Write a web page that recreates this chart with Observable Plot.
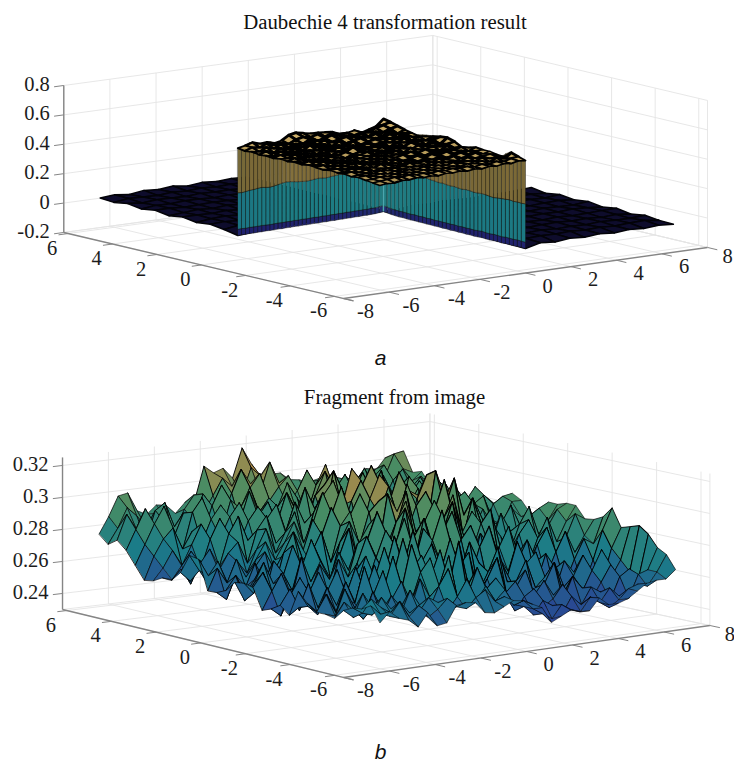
<!DOCTYPE html>
<html><head><meta charset="utf-8">
<style>html,body{margin:0;padding:0;background:#fff;overflow:hidden}svg{display:block}</style>
<script src="https://cdn.jsdelivr.net/npm/d3@7"></script>
<script src="https://cdn.jsdelivr.net/npm/@observablehq/plot@0.6"></script>
</head><body>
<script>
const xTicks=[-8,-6,-4,-2,0,2,4,6,8];
const yTicks=[-6,-4,-2,0,2,4,6];
const zTicksA=[-0.2,0,0.2,0.4,0.6,0.8];
const zTicksB=[0.24,0.26,0.28,0.3,0.32];
const titleA="Daubechie 4 transformation result";
const titleB="Fragment from image";

// chart a: raised quadrant top, z = 0.5 + v/1000, y 0 -> -6.4 by row, x -6.4 -> 0 by column
const topA=[
[60,70,85,70,75,60,70,100,110,100,90,90,85,80,60,60,70,45,60,75,120],
[52,68,62,78,64,72,56,80,92,84,96,74,88,66,78,54,68,60,84,96,110],
[58,50,74,60,80,54,70,62,88,70,82,94,60,76,58,72,50,76,64,82,95],
[50,66,48,72,56,78,60,84,58,92,66,78,88,54,74,62,80,56,90,60,80],
[54,44,68,52,76,50,86,64,76,52,84,60,72,82,50,70,58,84,52,76,70],
[48,62,54,70,46,66,58,78,50,72,62,90,56,68,78,48,74,60,80,62,60],
[56,50,72,44,64,52,74,56,82,60,76,54,84,60,72,62,50,78,56,74,70],
[50,64,46,66,54,70,48,68,58,86,52,70,62,80,48,76,66,54,72,60,80],
[58,44,60,50,72,56,62,76,50,64,78,56,74,54,70,58,82,64,50,76,90],
[52,66,54,68,46,64,52,70,60,74,50,68,58,76,62,50,68,56,74,58,95],
[60,48,70,52,62,50,72,54,66,56,80,60,72,52,78,60,54,72,60,70,80],
[54,62,46,66,54,68,48,64,52,74,58,66,50,70,56,72,62,50,76,54,55],
[50,44,64,50,70,56,60,50,70,54,62,76,56,64,48,66,54,70,58,72,60],
[58,60,48,62,46,64,54,68,50,66,52,60,72,54,70,58,74,52,66,56,75],
[52,46,66,54,60,50,70,56,62,48,70,54,62,50,64,50,60,70,54,68,70],
[56,62,50,64,48,58,52,64,50,68,56,66,50,68,56,72,52,58,74,60,70],
[48,52,60,46,62,54,66,48,60,54,62,50,64,54,60,50,68,56,62,70,60],
[54,60,48,58,50,64,50,60,52,66,50,60,52,66,54,62,54,70,58,64,55],
[46,46,56,50,62,48,58,52,62,50,58,54,60,50,62,56,66,54,72,60,95],
[40,44,50,60,52,60,54,58,50,60,54,62,56,62,52,64,56,68,60,74,80],
[34,40,38,48,44,52,46,50,44,54,50,56,48,56,50,60,54,64,58,70,65]];

// chart a: inner walls, z in thousandths
const wallABottom=[-34,-33,-34,-32,-33,-31,-32,-30,-31,-30,-29,-30,-28,-29,-27,-28,-26,-27,-26,-25,-26,-24,-25,-23,-24,-22,-23,-21,-22,-20,-21,-19,-20,-18,-17,-14,-10];
const wallABlue=[8,9,8,10,9,10,11,10,9,11,12,11,13,12,14,13,15,14,15,16,15,17,16,18,17,19,18,20,19,21,20,22,21,23,24,27,31];
const wallATeal=[256,254,258,262,264,268,270,266,264,268,274,280,284,282,278,274,272,270,272,276,278,276,274,278,280,284,282,278,274,272,270,272,274,272,276,280,300];
const wallATop=[560,560,575,586,580,572,569,572,574,565,555,570,590,605,614,605,598,596,592,588,587,588,585,585,575,565,552,560,565,568,555,545,539,555,568,575,620];
const wallBBottom=[-10,-14,-18,-20,-22,-21,-23,-24,-23,-25,-24,-26,-25,-27,-26,-28,-27,-29,-28,-30,-29,-31,-30,-32,-31,-30,-32,-33,-31,-32,-34,-32,-33,-34,-32,-33,-34];
const wallBBlue=[30,26,22,20,18,19,17,16,18,15,17,14,16,13,15,13,14,12,14,11,13,11,12,10,12,14,11,10,12,11,9,12,11,10,12,10,9];
const wallBTeal=[300,280,276,274,278,282,286,284,280,284,288,286,282,280,276,278,274,272,274,270,268,272,270,266,268,270,268,264,262,266,268,270,272,268,270,268,270];
const wallBTop=[620,615,605,595,590,580,575,568,562,570,575,580,582,586,590,594,596,590,575,560,555,560,570,575,572,570,569,565,560,556,555,580,596,585,570,565,565];

// chart a: floor, z in thousandths. Left part y 6.2 -> 0, x -6.4 -> 0; right part y 0 -> -6.4, x 0 -> 6.5
const floorLeft=[
[0,8,-4,10,2,12,-2,9,1,8,2],
[-8,4,1,-3,5,0,6,-1,4,2,5],
[6,-4,5,2,-2,6,1,3,-2,5,1],
[-9,2,-1,6,3,-2,4,0,6,2,4],
[5,5,-3,1,4,2,-3,5,1,-1,3],
[-10,-3,4,-2,6,-1,3,2,-2,4,0],
[3,3,0,5,-3,4,1,-2,5,1,3],
[-12,-1,4,-2,2,0,5,3,-1,4,-1],
[-2,2,-4,3,-1,5,-2,4,2,-1,2],
[-16,-1,2,-3,4,1,-2,3,-3,2,0],
[-34,-26,-22,-16,-14,-10,-12,-8,-10,-9,-8]];
const floorRight=[
[-8,-10,4,-2,5,1,-3,4,2,6,12],
[-9,3,-2,6,0,4,-1,5,-2,3,-4],
[-10,-2,5,1,-3,6,2,-1,4,0,10],
[-12,4,0,-3,5,1,7,-2,3,6,-3],
[-14,1,6,2,-1,4,-2,5,1,-2,9],
[-16,-2,3,-1,5,0,4,2,8,3,-6],
[-18,4,-3,6,1,-2,5,-1,3,6,8],
[-22,0,5,-2,3,6,1,4,-3,2,-8],
[-26,3,-1,4,-2,2,-2,5,1,-1,6],
[-30,-3,2,0,5,-1,3,-2,4,8,-6],
[-34,-8,-18,-6,-14,-4,-12,-3,-10,-2,-10]];

// chart b: surface, z = 0.2 + v/1000, y 6.2 -> -6.4 by row, x -6.4 -> 6.5 by column
const surfB=[
[74,84,96,97,85,82,87,86,80,86,86,107,102,104,97,115,104,94,96,96,91,90,88,89,90,88,82,84,91,89,96,92],
[69,78,90,84,76,84,80,72,84,92,80,90,100,94,88,104,98,90,84,92,84,80,90,82,78,88,84,80,92,86,100,101],
[73,88,78,70,88,92,76,68,78,94,84,76,92,106,96,90,108,94,80,86,96,84,74,88,92,80,72,90,96,84,92,89],
[68,80,92,76,82,72,86,78,70,88,100,82,74,96,104,86,94,100,84,72,88,100,86,78,90,98,84,76,88,94,86,91],
[60,72,84,94,76,66,88,96,78,72,92,86,98,82,90,76,84,92,104,88,76,90,98,82,72,86,94,82,70,84,90,83],
[52,66,76,82,68,78,70,84,92,74,80,98,84,70,86,100,90,78,96,108,86,74,88,94,80,70,84,92,78,88,80,81],
[53,60,70,60,72,84,64,74,86,94,72,84,92,78,96,84,74,92,106,94,82,96,78,86,98,82,72,88,94,76,86,82],
[56,54,62,70,58,76,88,66,70,84,92,68,80,98,86,72,94,100,84,76,92,104,88,72,84,94,80,70,86,92,84,81],
[56,62,52,64,72,60,80,90,74,66,86,94,76,84,102,88,80,110,96,86,74,94,106,84,76,88,96,78,72,88,80,81],
[62,56,68,54,60,70,76,62,82,90,72,78,96,82,74,98,106,86,78,100,112,84,76,96,86,74,90,84,78,70,84,82],
[74,64,54,62,50,66,58,72,84,68,80,92,70,90,100,80,92,114,94,82,102,90,80,104,92,78,70,88,92,78,86,85],
[73,62,70,56,64,52,68,78,66,76,88,74,86,104,84,76,96,108,88,78,92,110,88,98,82,90,80,72,86,94,80,82],
[55,68,58,72,60,66,74,62,70,84,72,90,78,92,108,84,74,98,112,90,80,100,96,78,92,100,84,74,82,90,84,87],
[55,50,64,56,70,58,52,74,86,68,64,82,98,76,92,104,82,90,106,86,74,96,110,88,78,92,96,80,72,86,90,91],
[58,66,54,62,50,72,62,80,62,74,86,66,88,96,74,94,100,78,88,108,84,76,114,96,80,72,90,94,78,74,88,88],
[64,52,62,74,60,66,54,68,84,70,58,80,92,78,88,70,106,94,80,96,104,78,92,110,86,76,88,78,70,86,80,81],
[65,58,70,56,64,52,76,60,72,56,74,90,68,82,96,76,88,108,82,72,94,112,88,74,98,84,72,80,90,76,82,84],
[64,72,58,68,50,62,56,72,62,78,66,60,84,100,72,92,104,76,90,102,78,90,76,100,82,70,88,76,68,84,88,91],
[51,62,72,54,66,58,68,54,76,64,84,72,62,88,80,102,84,94,74,92,106,82,94,74,86,76,66,82,92,74,82,91],
[53,48,60,70,52,64,50,66,58,74,90,76,92,68,84,70,96,74,86,104,80,70,88,96,72,62,78,86,70,80,90,93],
[57,66,52,62,74,58,68,56,72,60,78,66,84,100,70,92,76,88,100,72,62,84,74,64,82,70,60,76,88,72,84,93],
[52,56,70,54,64,76,52,64,82,62,70,92,72,82,64,86,104,70,84,92,68,58,76,88,70,58,74,84,66,76,90,86],
[68,58,52,68,56,62,78,60,70,88,62,74,96,70,86,72,84,66,60,80,92,72,62,68,80,66,56,70,82,68,78,87],
[62,56,66,54,72,58,64,80,60,72,94,64,78,88,64,78,68,86,72,56,74,62,82,60,54,72,62,52,66,78,74,90],
[58,68,56,64,60,82,56,66,86,62,76,84,60,72,92,66,74,56,68,82,60,52,70,76,58,50,68,60,50,66,84,97],
[58,56,72,60,54,66,80,58,68,94,64,72,88,62,76,84,58,66,78,54,62,74,56,62,70,54,60,72,58,54,74,86],
[57,66,60,54,70,58,64,74,60,78,86,60,68,94,66,56,68,80,52,60,70,50,60,72,52,62,52,64,76,58,68,88],
[63,58,72,62,56,68,60,58,76,64,70,88,58,62,78,64,54,60,66,50,56,64,54,50,64,56,48,58,68,52,62,90],
[66,62,60,70,62,58,72,62,58,72,82,62,74,58,66,72,60,50,58,62,50,54,62,52,48,58,54,48,62,66,60,86],
[67,72,66,62,68,60,60,68,64,58,66,76,62,70,60,66,56,54,48,56,52,46,56,50,54,50,58,52,50,64,66,79],
[70,64,62,70,60,66,58,62,68,62,60,66,70,62,64,58,60,54,50,46,54,50,48,56,52,48,52,58,60,58,66,76],
[61,67,62,60,55,63,54,55,65,66,65,58,57,60,63,62,59,56,46,49,52,50,50,57,52,52,54,58,62,63,63,68]];

const xMin=-8,xMax=8,yMin=-6.4,yMax=6.2,sx0=-6.4,sx1=6.5,sy0=-6.4,sy1=6.2;

const viewA={ox:343,oy:298,ex:[22.75,-3.19],ey:[-22.2,-5.24],ez:147,k:[0.025,0.005],zMin:-0.2,zMax:0.8,y0:0,H:381};
const viewB={ox:343,oy:677,ex:[22.9,-3.25],ey:[-22.3,-5.4],ez:1600,k:[0.005,0.04],zMin:0.23,zMax:0.325,y0:381,H:382};

const proj=(v,x,y,z,p=false)=>{
  const X=x-xMin,Y=y-yMin,Z=z-v.zMin;
  return [v.ox+X*v.ex[0]+Y*v.ey[0]+(p?v.k[0]*X*Y:0), v.oy+X*v.ex[1]+Y*v.ey[1]+(p?v.k[1]*X*Y:0)-Z*v.ez];
};

function frame(v,zTicks,title,tx,ty,letter,ly){
  const grid=[],axes=[],ticks=[],labels=[];
  const seg=(arr,a,b,p=true)=>{const A=proj(v,...a,p),B=proj(v,...b,p);arr.push({x1:A[0],y1:A[1],x2:B[0],y2:B[1]});};
  for(const x of xTicks){
    seg(grid,[x,yMin,v.zMin],[x,yMax,v.zMin]);
    seg(grid,[x,yMax,v.zMin],[x,yMax,v.zMax]);
  }
  for(const y of yTicks){
    seg(grid,[xMin,y,v.zMin],[xMax,y,v.zMin]);
    seg(grid,[xMax,y,v.zMin],[xMax,y,v.zMax]);
  }
  seg(grid,[xMax,yMax,v.zMin],[xMax,yMax,v.zMax]);
  seg(grid,[xMax,yMin,v.zMin],[xMax,yMin,v.zMax]);
  seg(grid,[xMin,yMax,v.zMin],[xMax,yMax,v.zMin]);
  seg(grid,[xMax,yMin,v.zMin],[xMax,yMax,v.zMin]);
  for(const z of zTicks){
    seg(grid,[xMin,yMax,z],[xMax,yMax,z]);
    seg(grid,[xMax,yMax,z],[xMax,yMin,z]);
    seg(ticks,[xMin,yMax,z],[xMin-0.42,yMax,z]);
    const P=proj(v,xMin,yMax,z,true);
    labels.push({x:P[0],y:P[1],t:String(z),k:"z"});
  }
  seg(axes,[xMin,yMin,v.zMin],[xMax,yMin,v.zMin]);
  seg(axes,[xMin,yMin-0.45,v.zMin],[xMin,yMax,v.zMin]);
  seg(axes,[xMin,yMax,v.zMin],[xMin,yMax,v.zMax]);
  for(const x of xTicks){
    seg(ticks,[x,yMin,v.zMin],[x,yMin-0.45,v.zMin]);
    const P=proj(v,x,yMin,v.zMin,true);
    labels.push({x:P[0],y:P[1],t:String(x),k:x===8?"x8":"x"});
  }
  for(const y of yTicks){
    seg(ticks,[xMin,y,v.zMin],[xMin-0.42,y,v.zMin]);
    const P=proj(v,xMin,y,v.zMin,true);
    labels.push({x:P[0],y:P[1],t:String(y),k:"y"});
  }
  const serif="Liberation Serif",fs=20.5;
  return [
    Plot.link(grid,{x1:"x1",y1:"y1",x2:"x2",y2:"y2",stroke:"#e4e4e4",strokeWidth:0.9}),
    Plot.link(axes,{x1:"x1",y1:"y1",x2:"x2",y2:"y2",stroke:"#858585",strokeWidth:1.4}),
    Plot.link(ticks,{x1:"x1",y1:"y1",x2:"x2",y2:"y2",stroke:"#858585",strokeWidth:1}),
    Plot.text(labels.filter(d=>d.k==="z"),{x:"x",y:"y",text:"t",dx:-14,dy:-1,textAnchor:"end",fontFamily:serif,fontSize:fs,fill:"#1c1c1c"}),
    Plot.text(labels.filter(d=>d.k==="x"),{x:"x",y:"y",text:"t",dx:22,dy:13,fontFamily:serif,fontSize:fs,fill:"#1c1c1c"}),
    Plot.text(labels.filter(d=>d.k==="x8"),{x:"x",y:"y",text:"t",dx:20,dy:9,fontFamily:serif,fontSize:fs,fill:"#1c1c1c"}),
    Plot.text(labels.filter(d=>d.k==="y"),{x:"x",y:"y",text:"t",dx:-16,dy:14.5,fontFamily:serif,fontSize:fs,fill:"#1c1c1c"}),
    Plot.text([{x:tx,y:ty,t:title}],{x:"x",y:"y",text:"t",fontFamily:serif,fontSize:20.8,fill:"#111"}),
    Plot.text([{x:380,y:ly,t:letter}],{x:"x",y:"y",text:"t",fontFamily:"Liberation Sans",fontStyle:"italic",fontSize:21,fill:"#111"})
  ];
}

function gridFacets(v,g,x0,x1,y0,y1,zf,lo,hi,span){
  const out=[];let id=0;
  const R=g.length,C=g[0].length;
  const xs=c=>x0+(x1-x0)*c/(C-1),ys=r=>y0+(y1-y0)*r/(R-1);
  for(let r=0;r<R-1;r++)for(let c=C-2;c>=0;c--){
    const q=[[r,c],[r,c+1],[r+1,c+1],[r+1,c]];
    const val=d3.mean(q,([a,b])=>zf(g[a][b]));
    const rng=d3.max(q,([a,b])=>g[a][b])-d3.min(q,([a,b])=>g[a][b]);
    const w=lo+(hi-lo)*Math.min(rng/span,1);
    id++;
    for(const [a,b] of q){const P=proj(v,xs(b),ys(a),zf(g[a][b]));out.push({px:P[0],py:P[1],id,val,w});}
  }
  return out;
}

function wallFacets(v,bottom,blue,teal,top,pt){
  const out=[];let id=0;const n=bottom.length;
  const bands=[bottom,blue,teal,top];
  for(let i=0;i<n-1;i++)for(let b=0;b<3;b++){
    const lo=bands[b],hi=bands[b+1];
    const A=pt(i),B=pt(i+1);
    const val=(lo[i]+lo[i+1]+hi[i]+hi[i+1])/4000;
    id++;
    for(const [p,z] of [[A,lo[i]],[B,lo[i+1]],[B,hi[i+1]],[A,hi[i]]]){
      const P=proj(v,p[0],p[1],z/1000);out.push({px:P[0],py:P[1],id,val});
    }
  }
  return out;
}

const facetMark=(rows,opts)=>Plot.line(rows,{x:"px",y:"py",z:"id",curve:"linear-closed",strokeLinejoin:"round",...opts});
const base=v=>({width:734,height:v.H,marginTop:0,marginRight:0,marginBottom:0,marginLeft:0,
  x:{domain:[0,734],range:[0,734],axis:null},y:{domain:[v.y0,v.y0+v.H],range:[0,v.H],axis:null},
  style:{background:"#fff",display:"block"}});

const fz=m=>m/1000;
const floorL=gridFacets(viewA,floorLeft,sx0,0,sy1,0,fz,1.5,1.5,1);
const floorR=gridFacets(viewA,floorRight,0,sx1,0,sy0,fz,1.5,1.5,1);
const wallAC=wallFacets(viewA,wallABottom,wallABlue,wallATeal,wallATop,i=>[sx0*(1-i/36),0]);
const wallCB=wallFacets(viewA,wallBBottom,wallBBlue,wallBTeal,wallBTop,i=>[0,sy0*i/36]);
const topFacets=gridFacets(viewA,topA,sx0,0,0,sy0,m=>0.5+m/1000,0.9,2.8,32);
const pS=proj(viewA,0,0,wallABottom.at(-1)/1000),pT=proj(viewA,0,0,wallATeal.at(-2)/1000);

const plotA=Plot.plot({...base(viewA),
  color:{type:"linear",domain:[-0.01,0.145,0.42,0.53,0.6],range:["#20226e","#1c7c84","#7a6836","#a48c50","#d2b26c"],clamp:true},
  marks:[
    ...frame(viewA,zTicksA,titleA,384.5,22,"a",358),
    facetMark(floorL,{fill:"#0e0c2c",stroke:"#030308",strokeWidth:"w"}),
    facetMark(floorR,{fill:"#0e0c2c",stroke:"#030308",strokeWidth:"w"}),
    facetMark(wallAC,{fill:"val",stroke:"#14140e",strokeWidth:0.7,strokeOpacity:0.6}),
    facetMark(wallCB,{fill:"val",stroke:"#14140e",strokeWidth:0.7,strokeOpacity:0.6}),
    Plot.link([{x1:pS[0],y1:pS[1],x2:pT[0],y2:pT[1]}],{x1:"x1",y1:"y1",x2:"x2",y2:"y2",stroke:"#4aa6ae",strokeWidth:1.5}),
    facetMark(topFacets,{fill:"val",stroke:"#000",strokeWidth:"w"})
  ]});

const surfFacets=gridFacets(viewB,surfB,sx0,sx1,sy1,sy0,m=>0.2+m/1000,0.35,1.15,36);
const plotB=Plot.plot({...base(viewB),
  color:{type:"linear",domain:[0.248,0.27,0.29,0.306],range:["#2a4494","#1b7c88","#468c64","#b08a48"],clamp:true},
  marks:[
    ...frame(viewB,zTicksB,titleB,394,397,"b",752),
    facetMark(surfFacets,{fill:"val",stroke:"#000",strokeWidth:"w"})
  ]});

document.body.append(plotA,plotB);
</script>
</body></html>
